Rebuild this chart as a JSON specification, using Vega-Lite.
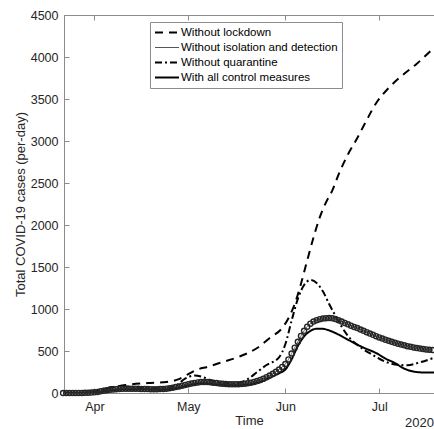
{
  "$schema": "https://vega.github.io/schema/vega-lite/v6.json",
  "width": 370,
  "height": 378,
  "autosize": {"type": "none"},
  "padding": {"left": 64, "top": 15, "right": 0, "bottom": 36},
  "background": "white",
  "config": {"view": {"stroke": "#8c8c8c", "strokeWidth": 1}, "font": "Liberation Sans"},
  "datasets": {
    "curves": [
      {"s": "Without lockdown", "t": "2020-03-22T00:00", "v": 0},
      {"s": "Without lockdown", "t": "2020-03-27T00:00", "v": 0},
      {"s": "Without lockdown", "t": "2020-03-31T00:00", "v": 5},
      {"s": "Without lockdown", "t": "2020-04-03T00:00", "v": 35},
      {"s": "Without lockdown", "t": "2020-04-07T00:00", "v": 70},
      {"s": "Without lockdown", "t": "2020-04-11T00:00", "v": 95},
      {"s": "Without lockdown", "t": "2020-04-18T00:00", "v": 118},
      {"s": "Without lockdown", "t": "2020-04-24T00:00", "v": 132},
      {"s": "Without lockdown", "t": "2020-04-28T00:00", "v": 165},
      {"s": "Without lockdown", "t": "2020-05-01T00:00", "v": 225},
      {"s": "Without lockdown", "t": "2020-05-04T00:00", "v": 280},
      {"s": "Without lockdown", "t": "2020-05-07T00:00", "v": 310},
      {"s": "Without lockdown", "t": "2020-05-12T00:00", "v": 369},
      {"s": "Without lockdown", "t": "2020-05-17T00:00", "v": 429},
      {"s": "Without lockdown", "t": "2020-05-23T00:00", "v": 536},
      {"s": "Without lockdown", "t": "2020-05-27T00:00", "v": 655},
      {"s": "Without lockdown", "t": "2020-05-31T00:00", "v": 774},
      {"s": "Without lockdown", "t": "2020-06-02T00:00", "v": 890},
      {"s": "Without lockdown", "t": "2020-06-04T00:00", "v": 1060},
      {"s": "Without lockdown", "t": "2020-06-06T00:00", "v": 1300},
      {"s": "Without lockdown", "t": "2020-06-08T00:00", "v": 1580},
      {"s": "Without lockdown", "t": "2020-06-10T00:00", "v": 1850},
      {"s": "Without lockdown", "t": "2020-06-12T00:00", "v": 2090},
      {"s": "Without lockdown", "t": "2020-06-14T00:00", "v": 2270},
      {"s": "Without lockdown", "t": "2020-06-16T00:00", "v": 2410},
      {"s": "Without lockdown", "t": "2020-06-18T00:00", "v": 2600},
      {"s": "Without lockdown", "t": "2020-06-21T00:00", "v": 2840},
      {"s": "Without lockdown", "t": "2020-06-24T00:00", "v": 3036},
      {"s": "Without lockdown", "t": "2020-06-27T00:00", "v": 3250},
      {"s": "Without lockdown", "t": "2020-06-30T00:00", "v": 3450},
      {"s": "Without lockdown", "t": "2020-07-04T00:00", "v": 3630},
      {"s": "Without lockdown", "t": "2020-07-08T00:00", "v": 3770},
      {"s": "Without lockdown", "t": "2020-07-13T00:00", "v": 3920},
      {"s": "Without lockdown", "t": "2020-07-18T12:00", "v": 4110},

      {"s": "Without quarantine", "t": "2020-03-22T00:00", "v": 0},
      {"s": "Without quarantine", "t": "2020-03-27T00:00", "v": 0},
      {"s": "Without quarantine", "t": "2020-03-31T00:00", "v": 5},
      {"s": "Without quarantine", "t": "2020-04-04T00:00", "v": 50},
      {"s": "Without quarantine", "t": "2020-04-07T00:00", "v": 72},
      {"s": "Without quarantine", "t": "2020-04-11T00:00", "v": 78},
      {"s": "Without quarantine", "t": "2020-04-16T00:00", "v": 60},
      {"s": "Without quarantine", "t": "2020-04-22T00:00", "v": 55},
      {"s": "Without quarantine", "t": "2020-04-27T00:00", "v": 90},
      {"s": "Without quarantine", "t": "2020-04-30T00:00", "v": 170},
      {"s": "Without quarantine", "t": "2020-05-03T00:00", "v": 208},
      {"s": "Without quarantine", "t": "2020-05-06T00:00", "v": 185},
      {"s": "Without quarantine", "t": "2020-05-08T00:00", "v": 155},
      {"s": "Without quarantine", "t": "2020-05-11T00:00", "v": 122},
      {"s": "Without quarantine", "t": "2020-05-16T00:00", "v": 112},
      {"s": "Without quarantine", "t": "2020-05-20T00:00", "v": 165},
      {"s": "Without quarantine", "t": "2020-05-23T00:00", "v": 250},
      {"s": "Without quarantine", "t": "2020-05-26T00:00", "v": 333},
      {"s": "Without quarantine", "t": "2020-05-30T00:00", "v": 425},
      {"s": "Without quarantine", "t": "2020-06-01T00:00", "v": 580},
      {"s": "Without quarantine", "t": "2020-06-03T00:00", "v": 860},
      {"s": "Without quarantine", "t": "2020-06-05T00:00", "v": 1120},
      {"s": "Without quarantine", "t": "2020-06-07T00:00", "v": 1285},
      {"s": "Without quarantine", "t": "2020-06-09T00:00", "v": 1345},
      {"s": "Without quarantine", "t": "2020-06-11T00:00", "v": 1310},
      {"s": "Without quarantine", "t": "2020-06-13T00:00", "v": 1210},
      {"s": "Without quarantine", "t": "2020-06-15T00:00", "v": 1060},
      {"s": "Without quarantine", "t": "2020-06-17T00:00", "v": 920},
      {"s": "Without quarantine", "t": "2020-06-19T00:00", "v": 790},
      {"s": "Without quarantine", "t": "2020-06-21T00:00", "v": 680},
      {"s": "Without quarantine", "t": "2020-06-25T00:00", "v": 545},
      {"s": "Without quarantine", "t": "2020-06-29T00:00", "v": 452},
      {"s": "Without quarantine", "t": "2020-07-03T00:00", "v": 372},
      {"s": "Without quarantine", "t": "2020-07-07T00:00", "v": 335},
      {"s": "Without quarantine", "t": "2020-07-10T00:00", "v": 330},
      {"s": "Without quarantine", "t": "2020-07-14T00:00", "v": 365},
      {"s": "Without quarantine", "t": "2020-07-18T12:00", "v": 420},

      {"s": "With all control measures", "t": "2020-03-22T00:00", "v": 0},
      {"s": "With all control measures", "t": "2020-03-27T00:00", "v": 0},
      {"s": "With all control measures", "t": "2020-03-31T00:00", "v": 3},
      {"s": "With all control measures", "t": "2020-04-03T00:00", "v": 15},
      {"s": "With all control measures", "t": "2020-04-07T00:00", "v": 35},
      {"s": "With all control measures", "t": "2020-04-11T00:00", "v": 45},
      {"s": "With all control measures", "t": "2020-04-16T00:00", "v": 45},
      {"s": "With all control measures", "t": "2020-04-22T00:00", "v": 40},
      {"s": "With all control measures", "t": "2020-04-27T00:00", "v": 55},
      {"s": "With all control measures", "t": "2020-05-01T00:00", "v": 90},
      {"s": "With all control measures", "t": "2020-05-05T00:00", "v": 115},
      {"s": "With all control measures", "t": "2020-05-09T00:00", "v": 105},
      {"s": "With all control measures", "t": "2020-05-14T00:00", "v": 95},
      {"s": "With all control measures", "t": "2020-05-20T00:00", "v": 100},
      {"s": "With all control measures", "t": "2020-05-24T00:00", "v": 130},
      {"s": "With all control measures", "t": "2020-05-27T00:00", "v": 180},
      {"s": "With all control measures", "t": "2020-05-30T00:00", "v": 235},
      {"s": "With all control measures", "t": "2020-06-01T00:00", "v": 280},
      {"s": "With all control measures", "t": "2020-06-03T00:00", "v": 400},
      {"s": "With all control measures", "t": "2020-06-05T00:00", "v": 560},
      {"s": "With all control measures", "t": "2020-06-07T00:00", "v": 675},
      {"s": "With all control measures", "t": "2020-06-09T00:00", "v": 738},
      {"s": "With all control measures", "t": "2020-06-11T00:00", "v": 766},
      {"s": "With all control measures", "t": "2020-06-13T00:00", "v": 764},
      {"s": "With all control measures", "t": "2020-06-15T00:00", "v": 745},
      {"s": "With all control measures", "t": "2020-06-17T00:00", "v": 714},
      {"s": "With all control measures", "t": "2020-06-20T00:00", "v": 655},
      {"s": "With all control measures", "t": "2020-06-23T00:00", "v": 595},
      {"s": "With all control measures", "t": "2020-06-26T00:00", "v": 540},
      {"s": "With all control measures", "t": "2020-06-30T00:00", "v": 476},
      {"s": "With all control measures", "t": "2020-07-03T00:00", "v": 410},
      {"s": "With all control measures", "t": "2020-07-06T00:00", "v": 357},
      {"s": "With all control measures", "t": "2020-07-09T00:00", "v": 290},
      {"s": "With all control measures", "t": "2020-07-12T00:00", "v": 255},
      {"s": "With all control measures", "t": "2020-07-15T00:00", "v": 245},
      {"s": "With all control measures", "t": "2020-07-18T12:00", "v": 245},

      {"s": "Without isolation and detection", "t": "2020-03-22T00:00", "v": 0},
      {"s": "Without isolation and detection", "t": "2020-03-23T00:00", "v": 0},
      {"s": "Without isolation and detection", "t": "2020-03-24T00:00", "v": 0},
      {"s": "Without isolation and detection", "t": "2020-03-25T00:00", "v": 0},
      {"s": "Without isolation and detection", "t": "2020-03-26T00:00", "v": 0},
      {"s": "Without isolation and detection", "t": "2020-03-27T00:00", "v": 1},
      {"s": "Without isolation and detection", "t": "2020-03-28T00:00", "v": 1},
      {"s": "Without isolation and detection", "t": "2020-03-29T00:00", "v": 2},
      {"s": "Without isolation and detection", "t": "2020-03-30T00:00", "v": 3},
      {"s": "Without isolation and detection", "t": "2020-03-31T00:00", "v": 5},
      {"s": "Without isolation and detection", "t": "2020-04-01T00:00", "v": 8},
      {"s": "Without isolation and detection", "t": "2020-04-02T00:00", "v": 13},
      {"s": "Without isolation and detection", "t": "2020-04-03T00:00", "v": 20},
      {"s": "Without isolation and detection", "t": "2020-04-04T00:00", "v": 27},
      {"s": "Without isolation and detection", "t": "2020-04-05T00:00", "v": 33},
      {"s": "Without isolation and detection", "t": "2020-04-06T00:00", "v": 38},
      {"s": "Without isolation and detection", "t": "2020-04-07T00:00", "v": 42},
      {"s": "Without isolation and detection", "t": "2020-04-08T00:00", "v": 45},
      {"s": "Without isolation and detection", "t": "2020-04-09T00:00", "v": 48},
      {"s": "Without isolation and detection", "t": "2020-04-10T00:00", "v": 50},
      {"s": "Without isolation and detection", "t": "2020-04-11T00:00", "v": 51},
      {"s": "Without isolation and detection", "t": "2020-04-12T00:00", "v": 52},
      {"s": "Without isolation and detection", "t": "2020-04-13T00:00", "v": 52},
      {"s": "Without isolation and detection", "t": "2020-04-14T00:00", "v": 51},
      {"s": "Without isolation and detection", "t": "2020-04-15T00:00", "v": 50},
      {"s": "Without isolation and detection", "t": "2020-04-16T00:00", "v": 49},
      {"s": "Without isolation and detection", "t": "2020-04-17T00:00", "v": 48},
      {"s": "Without isolation and detection", "t": "2020-04-18T00:00", "v": 47},
      {"s": "Without isolation and detection", "t": "2020-04-19T00:00", "v": 46},
      {"s": "Without isolation and detection", "t": "2020-04-20T00:00", "v": 46},
      {"s": "Without isolation and detection", "t": "2020-04-21T00:00", "v": 46},
      {"s": "Without isolation and detection", "t": "2020-04-22T00:00", "v": 47},
      {"s": "Without isolation and detection", "t": "2020-04-23T00:00", "v": 49},
      {"s": "Without isolation and detection", "t": "2020-04-24T00:00", "v": 52},
      {"s": "Without isolation and detection", "t": "2020-04-25T00:00", "v": 57},
      {"s": "Without isolation and detection", "t": "2020-04-26T00:00", "v": 63},
      {"s": "Without isolation and detection", "t": "2020-04-27T00:00", "v": 70},
      {"s": "Without isolation and detection", "t": "2020-04-28T00:00", "v": 78},
      {"s": "Without isolation and detection", "t": "2020-04-29T00:00", "v": 87},
      {"s": "Without isolation and detection", "t": "2020-04-30T00:00", "v": 96},
      {"s": "Without isolation and detection", "t": "2020-05-01T00:00", "v": 105},
      {"s": "Without isolation and detection", "t": "2020-05-02T00:00", "v": 113},
      {"s": "Without isolation and detection", "t": "2020-05-03T00:00", "v": 120},
      {"s": "Without isolation and detection", "t": "2020-05-04T00:00", "v": 126},
      {"s": "Without isolation and detection", "t": "2020-05-05T00:00", "v": 130},
      {"s": "Without isolation and detection", "t": "2020-05-06T00:00", "v": 131},
      {"s": "Without isolation and detection", "t": "2020-05-07T00:00", "v": 130},
      {"s": "Without isolation and detection", "t": "2020-05-08T00:00", "v": 127},
      {"s": "Without isolation and detection", "t": "2020-05-09T00:00", "v": 123},
      {"s": "Without isolation and detection", "t": "2020-05-10T00:00", "v": 118},
      {"s": "Without isolation and detection", "t": "2020-05-11T00:00", "v": 114},
      {"s": "Without isolation and detection", "t": "2020-05-12T00:00", "v": 110},
      {"s": "Without isolation and detection", "t": "2020-05-13T00:00", "v": 107},
      {"s": "Without isolation and detection", "t": "2020-05-14T00:00", "v": 105},
      {"s": "Without isolation and detection", "t": "2020-05-15T00:00", "v": 104},
      {"s": "Without isolation and detection", "t": "2020-05-16T00:00", "v": 104},
      {"s": "Without isolation and detection", "t": "2020-05-17T00:00", "v": 105},
      {"s": "Without isolation and detection", "t": "2020-05-18T00:00", "v": 107},
      {"s": "Without isolation and detection", "t": "2020-05-19T00:00", "v": 111},
      {"s": "Without isolation and detection", "t": "2020-05-20T00:00", "v": 116},
      {"s": "Without isolation and detection", "t": "2020-05-21T00:00", "v": 123},
      {"s": "Without isolation and detection", "t": "2020-05-22T00:00", "v": 132},
      {"s": "Without isolation and detection", "t": "2020-05-23T00:00", "v": 143},
      {"s": "Without isolation and detection", "t": "2020-05-24T00:00", "v": 156},
      {"s": "Without isolation and detection", "t": "2020-05-25T00:00", "v": 171},
      {"s": "Without isolation and detection", "t": "2020-05-26T00:00", "v": 188},
      {"s": "Without isolation and detection", "t": "2020-05-27T00:00", "v": 207},
      {"s": "Without isolation and detection", "t": "2020-05-28T00:00", "v": 228},
      {"s": "Without isolation and detection", "t": "2020-05-29T00:00", "v": 252},
      {"s": "Without isolation and detection", "t": "2020-05-30T00:00", "v": 280},
      {"s": "Without isolation and detection", "t": "2020-05-31T00:00", "v": 310},
      {"s": "Without isolation and detection", "t": "2020-06-01T00:00", "v": 345},
      {"s": "Without isolation and detection", "t": "2020-06-02T00:00", "v": 400},
      {"s": "Without isolation and detection", "t": "2020-06-03T00:00", "v": 470},
      {"s": "Without isolation and detection", "t": "2020-06-04T00:00", "v": 540},
      {"s": "Without isolation and detection", "t": "2020-06-05T00:00", "v": 610},
      {"s": "Without isolation and detection", "t": "2020-06-06T00:00", "v": 680},
      {"s": "Without isolation and detection", "t": "2020-06-07T00:00", "v": 740},
      {"s": "Without isolation and detection", "t": "2020-06-08T00:00", "v": 790},
      {"s": "Without isolation and detection", "t": "2020-06-09T00:00", "v": 825},
      {"s": "Without isolation and detection", "t": "2020-06-10T00:00", "v": 850},
      {"s": "Without isolation and detection", "t": "2020-06-11T00:00", "v": 867},
      {"s": "Without isolation and detection", "t": "2020-06-12T00:00", "v": 879},
      {"s": "Without isolation and detection", "t": "2020-06-13T00:00", "v": 887},
      {"s": "Without isolation and detection", "t": "2020-06-14T00:00", "v": 891},
      {"s": "Without isolation and detection", "t": "2020-06-15T00:00", "v": 892},
      {"s": "Without isolation and detection", "t": "2020-06-16T00:00", "v": 889},
      {"s": "Without isolation and detection", "t": "2020-06-17T00:00", "v": 880},
      {"s": "Without isolation and detection", "t": "2020-06-18T00:00", "v": 866},
      {"s": "Without isolation and detection", "t": "2020-06-19T00:00", "v": 850},
      {"s": "Without isolation and detection", "t": "2020-06-20T00:00", "v": 834},
      {"s": "Without isolation and detection", "t": "2020-06-21T00:00", "v": 818},
      {"s": "Without isolation and detection", "t": "2020-06-22T00:00", "v": 802},
      {"s": "Without isolation and detection", "t": "2020-06-23T00:00", "v": 787},
      {"s": "Without isolation and detection", "t": "2020-06-24T00:00", "v": 773},
      {"s": "Without isolation and detection", "t": "2020-06-25T00:00", "v": 756},
      {"s": "Without isolation and detection", "t": "2020-06-26T00:00", "v": 740},
      {"s": "Without isolation and detection", "t": "2020-06-27T00:00", "v": 724},
      {"s": "Without isolation and detection", "t": "2020-06-28T00:00", "v": 708},
      {"s": "Without isolation and detection", "t": "2020-06-29T00:00", "v": 692},
      {"s": "Without isolation and detection", "t": "2020-06-30T00:00", "v": 676},
      {"s": "Without isolation and detection", "t": "2020-07-01T00:00", "v": 662},
      {"s": "Without isolation and detection", "t": "2020-07-02T00:00", "v": 648},
      {"s": "Without isolation and detection", "t": "2020-07-03T00:00", "v": 635},
      {"s": "Without isolation and detection", "t": "2020-07-04T00:00", "v": 622},
      {"s": "Without isolation and detection", "t": "2020-07-05T00:00", "v": 610},
      {"s": "Without isolation and detection", "t": "2020-07-06T00:00", "v": 598},
      {"s": "Without isolation and detection", "t": "2020-07-07T00:00", "v": 587},
      {"s": "Without isolation and detection", "t": "2020-07-08T00:00", "v": 577},
      {"s": "Without isolation and detection", "t": "2020-07-09T00:00", "v": 567},
      {"s": "Without isolation and detection", "t": "2020-07-10T00:00", "v": 558},
      {"s": "Without isolation and detection", "t": "2020-07-11T00:00", "v": 550},
      {"s": "Without isolation and detection", "t": "2020-07-12T00:00", "v": 542},
      {"s": "Without isolation and detection", "t": "2020-07-13T00:00", "v": 535},
      {"s": "Without isolation and detection", "t": "2020-07-14T00:00", "v": 529},
      {"s": "Without isolation and detection", "t": "2020-07-15T00:00", "v": 524},
      {"s": "Without isolation and detection", "t": "2020-07-16T00:00", "v": 519},
      {"s": "Without isolation and detection", "t": "2020-07-17T00:00", "v": 515},
      {"s": "Without isolation and detection", "t": "2020-07-18T00:00", "v": 512}
    ],
    "yearLabel": [{"label": "2020"}]
  },
  "layer": [
    {
      "data": {"name": "curves"},
      "mark": {"type": "line", "interpolate": "monotone", "clip": true},
      "encoding": {
        "x": {
          "field": "t", "type": "temporal",
          "scale": {"domain": [{"year": 2020, "month": "mar", "date": 22, "hours": 7}, {"year": 2020, "month": "jul", "date": 18, "hours": 12}]},
          "axis": {
            "orient": "bottom", "format": "%b", "tickCount": {"interval": "month", "step": 1},
            "title": "Time", "titleFontSize": 13, "titleFontWeight": "normal", "titleColor": "#262626", "titlePadding": 2,
            "labelFontSize": 12.5, "labelColor": "#262626", "labelPadding": 12, "labelFlush": false,
            "tickSize": -5, "tickColor": "#8c8c8c", "domainColor": "#8c8c8c", "grid": false
          }
        },
        "y": {
          "field": "v", "type": "quantitative",
          "scale": {"domain": [0, 4500], "nice": false},
          "axis": {
            "values": [0, 500, 1000, 1500, 2000, 2500, 3000, 3500, 4000, 4500], "format": "d",
            "title": "Total COVID-19 cases (per-day)", "titleFontSize": 13, "titleFontWeight": "normal", "titleColor": "#262626", "titlePadding": 3,
            "labelFontSize": 12.5, "labelColor": "#262626", "labelPadding": 11, "labelFlush": false,
            "tickSize": -5, "tickColor": "#8c8c8c", "domainColor": "#8c8c8c", "grid": false
          }
        },
        "color": {
          "field": "s", "type": "nominal",
          "scale": {"domain": ["Without lockdown", "Without isolation and detection", "Without quarantine", "With all control measures"], "range": ["#000000", "#555555", "#000000", "#000000"]},
          "legend": {
            "orient": "none", "legendX": 86, "legendY": 7, "title": null,
            "symbolType": "stroke", "symbolSize": 576, "clipHeight": 13, "rowPadding": 2,
            "labelFontSize": 11.5, "labelFont": "Liberation Sans", "labelColor": "#000000", "labelOffset": 1,
            "strokeColor": "#8c8c8c", "fillColor": "white", "padding": 4
          }
        },
        "strokeDash": {
          "field": "s", "type": "nominal",
          "scale": {"domain": ["Without lockdown", "Without isolation and detection", "Without quarantine", "With all control measures"], "range": [[8, 6], [1, 0], [7, 3, 2, 3], [1, 0]]}
        },
        "strokeWidth": {
          "field": "s", "type": "nominal",
          "scale": {"type": "ordinal", "domain": ["Without lockdown", "Without isolation and detection", "Without quarantine", "With all control measures"], "range": [2, 1, 2, 2]}
        }
      }
    },
    {
      "data": {"name": "curves"},
      "transform": [{"filter": "datum.s === 'Without isolation and detection'"}],
      "mark": {"type": "point", "shape": "circle", "filled": false, "size": 26, "stroke": "#262626", "strokeWidth": 1.4, "opacity": 1},
      "encoding": {
        "x": {
          "field": "t", "type": "temporal",
          "axis": {"orient": "top", "labels": false, "title": null, "domain": false, "tickCount": {"interval": "month", "step": 1}, "tickSize": -5, "tickColor": "#8c8c8c", "grid": false}
        },
        "y": {"field": "v", "type": "quantitative"}
      }
    },
    {
      "data": {"name": "yearLabel"},
      "mark": {"type": "text", "align": "right", "baseline": "middle", "fontSize": 13, "color": "#262626", "font": "Liberation Sans"},
      "encoding": {
        "x": {"datum": {"year": 2020, "month": "jul", "date": 18, "hours": 12}, "type": "temporal", "axis": null},
        "y": {"datum": -357, "type": "quantitative"},
        "text": {"field": "label"}
      }
    }
  ],
  "resolve": {"axis": {"x": "independent"}}
}
